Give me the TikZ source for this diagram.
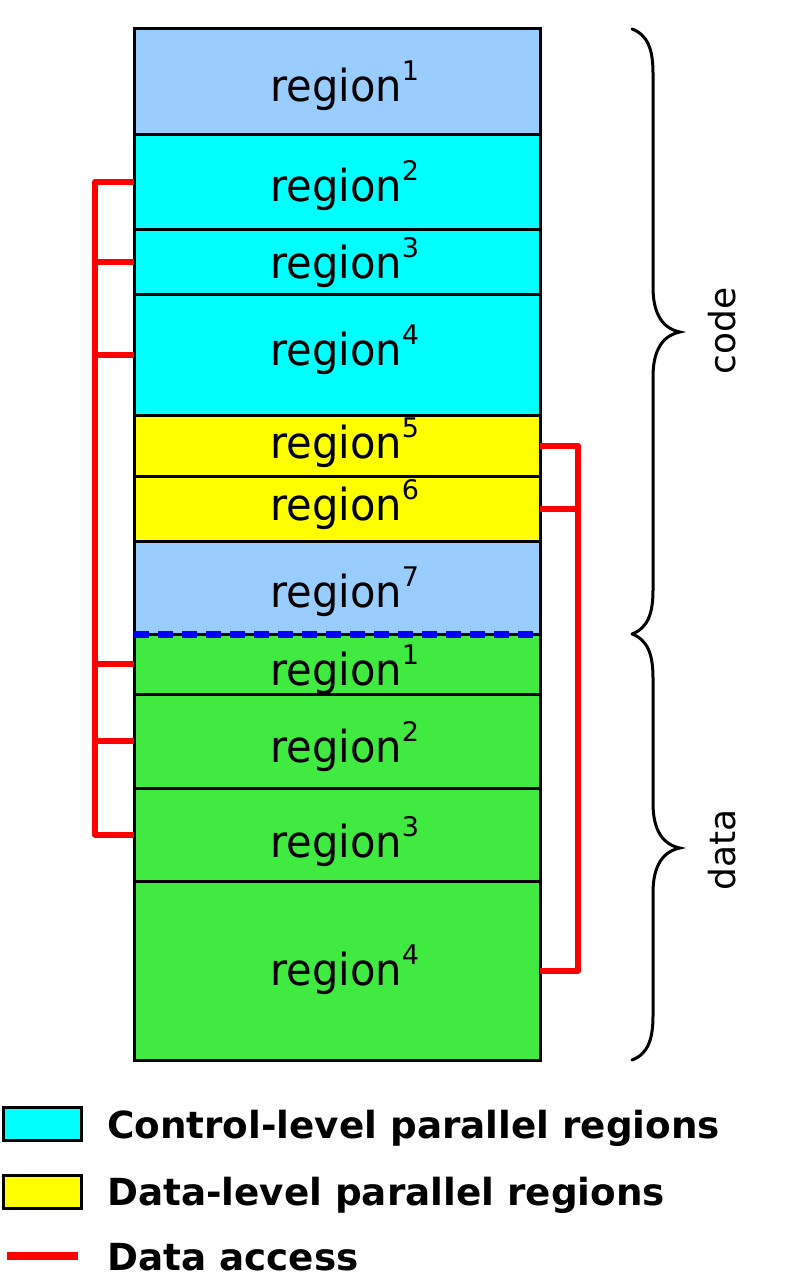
\documentclass[tikz,border=0pt]{standalone}
\usepackage{fontspec}
\setmainfont{DejaVu Sans}
\definecolor{lblue}{HTML}{99CCFF}
\definecolor{ccyan}{HTML}{00FFFF}
\definecolor{cyel}{HTML}{FFFF00}
\definecolor{cgreen}{HTML}{40EA40}
\definecolor{cred}{HTML}{FF0000}
\definecolor{cblue}{HTML}{0000FF}
\newcommand{\rg}[1]{\scalebox{1}[1.06]{region}\rlap{\raisebox{21pt}{\fontsize{27}{27}\selectfont #1}}}
\begin{document}
\begin{tikzpicture}[x=1pt,y=-1pt,
  regbox/.style={draw=black,line width=3pt,minimum width=406pt,inner sep=0pt,outer sep=0pt},
  regtext/.style={anchor=base,inner sep=0pt,font=\fontsize{41.6}{41.6}\selectfont},
  access/.style={draw=cred,line width=6pt,line join=round},
  bracestyle/.style={draw=black,line width=3pt,line cap=round},
  legtext/.style={anchor=base west,inner sep=0pt,font=\fontsize{37.3}{37.3}\selectfont\bfseries},
  legbox/.style={draw=black,line width=3pt,minimum width=78pt,minimum height=33pt,inner sep=0pt}]
\useasboundingbox (0,0) rectangle (789,1279);
% code regions
\node[regbox,fill=lblue,minimum height=106pt] (r1) at (337,82) {};
\node[regbox,fill=ccyan,minimum height=94pt] (r2) at (337,182) {};
\node[regbox,fill=ccyan,minimum height=65pt] (r3) at (337,261.5) {};
\node[regbox,fill=ccyan,minimum height=121pt] (r4) at (337,354.5) {};
\node[regbox,fill=cyel,minimum height=61pt] (r5) at (337,445.5) {};
\node[regbox,fill=cyel,minimum height=65pt] (r6) at (337,508.5) {};
\node[regbox,fill=lblue,minimum height=93pt] (r7) at (337,587.5) {};
% data regions
\node[regbox,fill=cgreen,minimum height=60pt] (d1) at (337,664) {};
\node[regbox,fill=cgreen,minimum height=94pt] (d2) at (337,741) {};
\node[regbox,fill=cgreen,minimum height=93pt] (d3) at (337,834.5) {};
\node[regbox,fill=cgreen,minimum height=179pt] (d4) at (337,970.5) {};
% region labels
\node[regtext] (tr1) at (336,102) {\rg{1}};
\node[regtext] (tr2) at (336,201) {\rg{2}};
\node[regtext] (tr3) at (336,278) {\rg{3}};
\node[regtext] (tr4) at (336,365) {\rg{4}};
\node[regtext] (tr5) at (336,458) {\rg{5}};
\node[regtext] (tr6) at (336,520) {\rg{6}};
\node[regtext] (tr7) at (336,607) {\rg{7}};
\node[regtext] (td1) at (336,685) {\rg{1}};
\node[regtext] (td2) at (336,762) {\rg{2}};
\node[regtext] (td3) at (336,857) {\rg{3}};
\node[regtext] (td4) at (336,985) {\rg{4}};
% boundary
\draw[cblue,line width=7pt,dash pattern=on 15pt off 9pt] (r7.south west) -- (r7.south east);
% left data-access bracket
\coordinate (lx) at (95,0);
\draw[access] (r2.west) -- (r2.west -| lx) -- (d3.west -| lx) -- (d3.west);
\foreach \n in {r3,r4,d1,d2}{\draw[access] (\n.west) -- (\n.west -| lx);}
% right data-access bracket
\coordinate (rx) at (578,0);
\draw[access] (r5.east) -- (r5.east -| rx) -- (d4.east -| rx) -- (d4.east);
\draw[access] (r6.east) -- (r6.east -| rx);
% braces
\draw[bracestyle] (632,29) .. controls (648,35) and (653,50) .. (653,73) -- (653,287)
  .. controls (653,310) and (660,328) .. (680,332) .. controls (660,336) and (653,354) .. (653,377)
  -- (653,590) .. controls (653,613) and (648,628) .. (632,634);
\draw[bracestyle] (632,634) .. controls (648,640) and (653,655) .. (653,678) -- (653,803)
  .. controls (653,826) and (660,844) .. (680,848) .. controls (660,852) and (653,870) .. (653,893)
  -- (653,1016) .. controls (653,1039) and (648,1054) .. (632,1060);
\node[rotate=90,font=\fontsize{36}{36}\selectfont] (code) at (722,331) {code};
\node[rotate=90,font=\fontsize{36}{36}\selectfont] (data) at (722,850) {data};
% legend
\node[legbox,fill=ccyan] (lg1) at (42.5,1123.5) {};
\node[legbox,fill=cyel] (lg2) at (42.5,1191.5) {};
\coordinate (la) at (7,1256);
\coordinate (lb) at (78,1256);
\draw[cred,line width=8pt] (la) -- (lb);
\node[legtext] (t1) at (107,1138) {Control-level parallel regions};
\node[legtext] (t2) at (107,1205) {Data-level parallel regions};
\node[legtext] (t3) at (107,1270) {Data access};
\end{tikzpicture}
\end{document}
